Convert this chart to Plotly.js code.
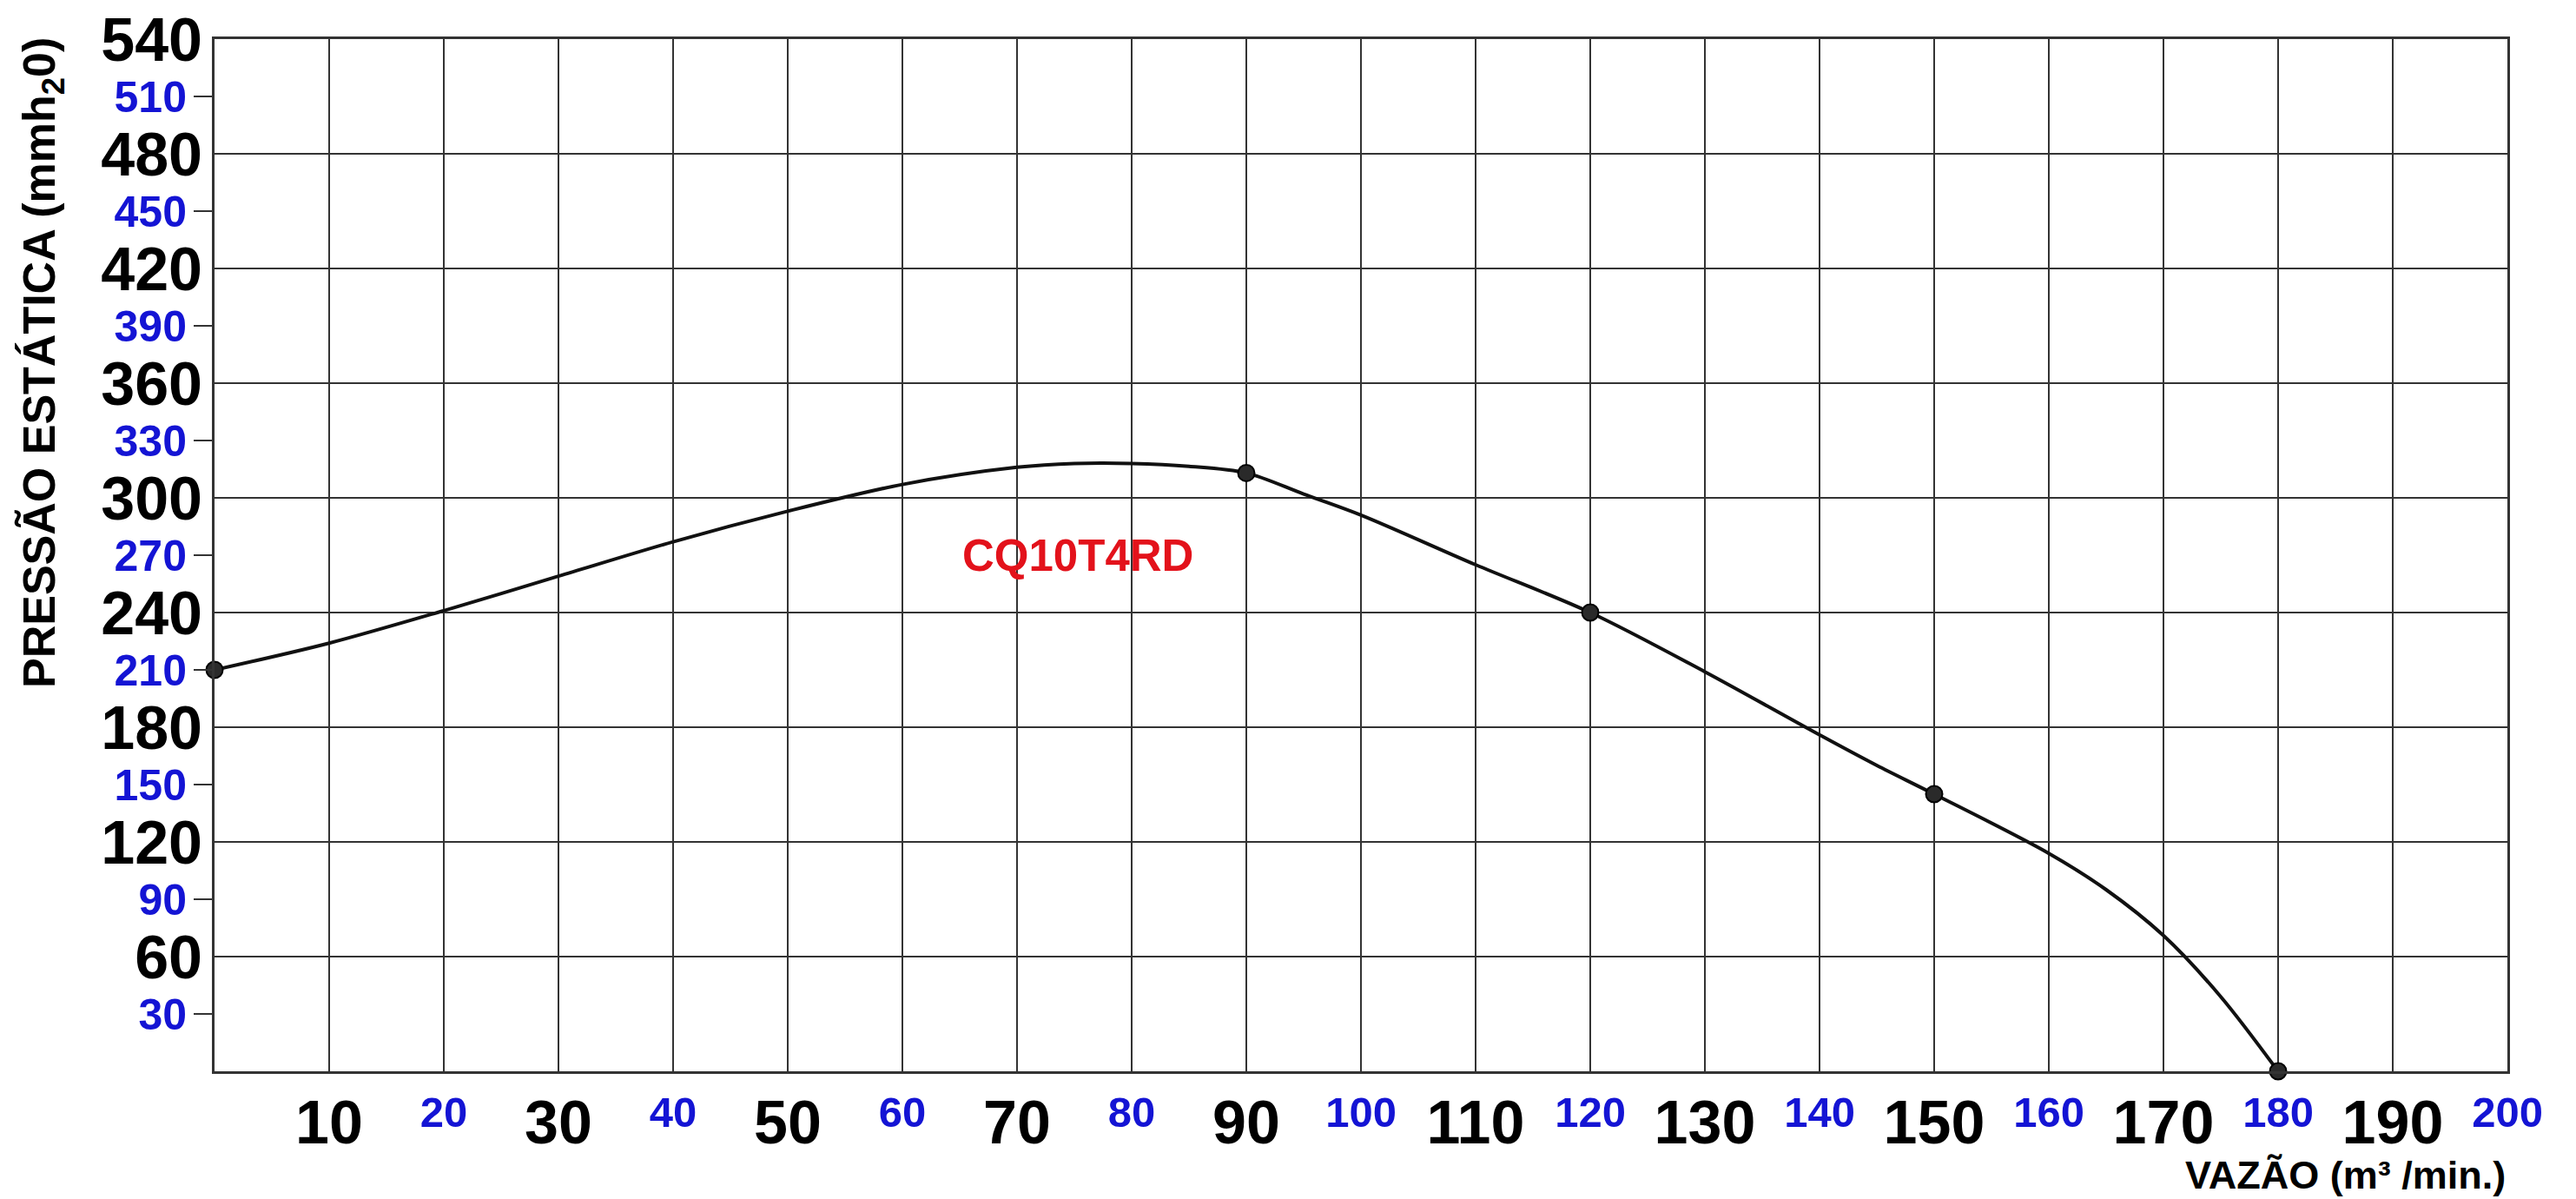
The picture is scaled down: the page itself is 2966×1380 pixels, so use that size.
<!DOCTYPE html>
<html>
<head>
<meta charset="utf-8">
<script src="https://cdn.plot.ly/plotly-3.0.1.min.js"></script>
<style>
  html, body { margin: 0; padding: 0; background: #ffffff; }
  #chart { width: 2966px; height: 1380px; }
</style>
</head>
<body>
<div id="chart"></div>
<script>
// Curve (flow m3/min vs static pressure mmH2O)
const flowX = [0, 10, 20, 30, 40, 50, 60, 70, 75, 80, 85, 90, 95, 100, 110, 120, 130, 140, 145, 150, 160, 165, 170, 175, 180];
const pressureY = [210, 224, 241, 259, 277, 293, 307, 316, 318, 318, 316.5, 313, 302, 291, 265, 240, 209, 176, 160, 145, 114, 95, 71, 39, 0];

// Marked points on the curve
const pointX = [0, 90, 120, 150, 180];
const pointY = [210, 313, 240, 145, 0];

// Tick labels
const xMajorTicks = [10, 30, 50, 70, 90, 110, 130, 150, 170, 190];
const xMinorTicks = [20, 40, 60, 80, 100, 120, 140, 160, 180, 200];
const yMajorTicks = [60, 120, 180, 240, 300, 360, 420, 480, 540];
const yMinorTicks = [30, 90, 150, 210, 270, 330, 390, 450, 510];

const modelName = 'CQ10T4RD';
const modelPos = [75.3, 270];
const yTitle = 'PRESSÃO ESTÁTICA (mmh<sub>2</sub>0)';
const xTitle = 'VAZÃO (m³ /min.)';

const FONT = 'Liberation Sans, Arial, Helvetica, sans-serif';
const GRID = '#333333';
const BLUE = '#1414d4';

const traces = [
  {
    x: flowX, y: pressureY, type: 'scatter', mode: 'lines',
    line: { color: '#111111', width: 4, shape: 'spline', smoothing: 0.9 },
    xaxis: 'x', yaxis: 'y', hoverinfo: 'skip', showlegend: false
  },
  {
    x: pointX, y: pointY, type: 'scatter', mode: 'markers',
    marker: { size: 19, color: '#2a2a2a', line: { color: '#000000', width: 2 } },
    xaxis: 'x2', yaxis: 'y2', cliponaxis: false, showlegend: false
  }
];

const layout = {
  width: 2966, height: 1380,
  paper_bgcolor: '#ffffff', plot_bgcolor: '#ffffff',
  margin: { l: 247, r: 79, t: 45, b: 147 },
  showlegend: false,
  font: { family: FONT, color: '#000000' },
  xaxis: {
    range: [0, 200], tickmode: 'array', tickvals: xMajorTicks, ticktext: xMajorTicks.map(String),
    tickfont: { family: FONT, size: 70, color: '#000000', weight: 'bold' },
    showgrid: true, gridcolor: GRID, gridwidth: 2.5,
    showline: true, linecolor: GRID, linewidth: 3, mirror: true,
    ticks: '', zeroline: false, fixedrange: true, ticklabelstandoff: -4
  },
  xaxis2: {
    overlaying: 'x', anchor: 'y2', side: 'bottom',
    range: [0, 200], tickmode: 'array', tickvals: xMinorTicks, ticktext: xMinorTicks.map(String),
    tickfont: { family: FONT, size: 49, color: BLUE, weight: 'bold' },
    showgrid: true, gridcolor: GRID, gridwidth: 2.5,
    showline: false, ticks: '', zeroline: false, fixedrange: true, ticklabelstandoff: 14
  },
  yaxis: {
    range: [0, 540], tickmode: 'array', tickvals: yMajorTicks, ticktext: yMajorTicks.map(String),
    tickfont: { family: FONT, size: 70, color: '#000000', weight: 'bold' },
    showgrid: true, gridcolor: GRID, gridwidth: 2.5,
    showline: true, linecolor: GRID, linewidth: 3, mirror: true,
    ticks: '', zeroline: false, fixedrange: true, ticklabelstandoff: -3
  },
  yaxis2: {
    overlaying: 'y', anchor: 'x2', side: 'left',
    range: [0, 540], tickmode: 'array', tickvals: yMinorTicks, ticktext: yMinorTicks.map(String),
    tickfont: { family: FONT, size: 50, color: BLUE, weight: 'bold' },
    showgrid: false, showline: false, zeroline: false,
    ticks: 'outside', ticklen: 23, tickwidth: 2.5, tickcolor: GRID,
    fixedrange: true, ticklabelstandoff: -2
  },
  annotations: [
    {
      text: modelName, x: modelPos[0], y: modelPos[1], xref: 'x', yref: 'y',
      showarrow: false, xanchor: 'center', yanchor: 'middle',
      font: { family: FONT, size: 51, color: '#e3121b', weight: 'bold' }
    },
    {
      text: xTitle, x: 1, y: -0.101, xref: 'paper', yref: 'paper',
      showarrow: false, xanchor: 'right', yanchor: 'middle',
      font: { family: FONT, size: 45, color: '#000000', weight: 'bold' }
    },
    {
      text: yTitle, x: -0.075, y: 0.686, xref: 'paper', yref: 'paper',
      showarrow: false, xanchor: 'center', yanchor: 'middle', textangle: -90,
      font: { family: FONT, size: 52, color: '#000000', weight: 'bold' }
    }
  ]
};

Plotly.newPlot('chart', traces, layout, { staticPlot: true, displayModeBar: false });
</script>
</body>
</html>
